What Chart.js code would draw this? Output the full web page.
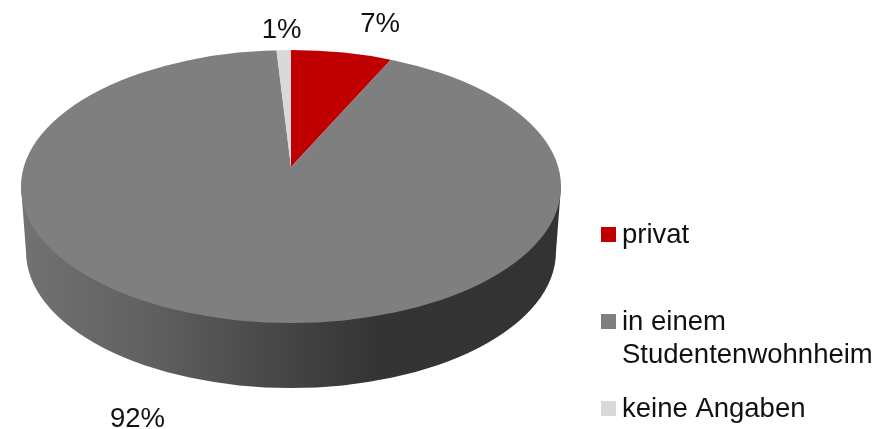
<!DOCTYPE html>
<html>
<head>
<meta charset="utf-8">
<style>
  html, body { margin: 0; padding: 0; background: #fff; }
  canvas { display: block; }
</style>
<script src="https://cdn.jsdelivr.net/npm/chart.js@4"></script>
</head>
<body>
<canvas id="wohnenChart" width="884" height="429"></canvas>
<script>
var categories = ["privat", "in einem Studentenwohnheim", "keine Angaben"];
var legendLines = [["privat"], ["in einem", "Studentenwohnheim"], ["keine Angaben"]];
var values = [7, 92, 1];
var colors = ["#c00000", "#7f7f7f", "#d9d9d9"];

var fontName = "27.5px 'Liberation Sans', Arial, sans-serif";
var valueLabelPos = [[380, 32], [137.5, 427], [281.5, 38]];
var legendPos = [
    { box: 227, lines: [243] },
    { box: 314, lines: [330, 363] },
    { box: 401, lines: [417] }
];

// Chart.js only draws round pies, so the arcs get squashed and clipped into a tilted disc
var tiltedPie = {
    id: "tiltedPie",
    beforeDatasetsDraw: function (chart) {
        var c = chart.ctx;
        var arc = chart.getDatasetMeta(0).data[0];
        var ry = arc.outerRadius;
        var rx = ry * 270 / 136.5;
        var cx = arc.x, cy = arc.y;

        // side wall
        var grad = c.createLinearGradient(cx - rx, 0, cx + rx, 0);
        grad.addColorStop(0, "#727272");
        grad.addColorStop(0.25, "#5f5f5f");
        grad.addColorStop(0.5, "#444444");
        grad.addColorStop(0.66, "#343434");
        grad.addColorStop(1, "#333333");
        c.save();
        c.fillStyle = grad;
        c.beginPath();
        c.moveTo(cx - rx, cy);
        c.lineTo(cx - rx + 5, cy + 65);
        c.ellipse(cx, cy + 65, rx - 5, ry, 0, Math.PI, 0, true);
        c.lineTo(cx + rx, cy);
        c.closePath();
        c.fill();
        c.restore();

        // top face, apex of the slices sits above the middle because of the perspective
        c.save();
        c.beginPath();
        c.ellipse(cx, cy, rx, ry, 0, 0, Math.PI * 2);
        c.clip();
        c.translate(cx, cy - 19.5);
        c.scale(1.3 * rx / ry, 1.3);
        c.translate(-cx, -cy);
    },
    afterDatasetsDraw: function (chart) {
        chart.ctx.restore();
    },
    afterDraw: function (chart) {
        var c = chart.ctx;
        c.save();
        c.font = fontName;
        c.fillStyle = "#111";
        c.textBaseline = "alphabetic";
        c.textAlign = "center";
        values.forEach(function (v, i) {
            c.fillText(v + "%", valueLabelPos[i][0], valueLabelPos[i][1]);
        });
        c.textAlign = "left";
        legendLines.forEach(function (lines, i) {
            c.fillStyle = colors[i];
            c.fillRect(601, legendPos[i].box, 15, 15);
            c.fillStyle = "#111";
            lines.forEach(function (line, j) {
                c.fillText(line, 622, legendPos[i].lines[j]);
            });
        });
        c.restore();
    }
};

var ctx = document.getElementById("wohnenChart");
var wohnenChart = new Chart(ctx, {
    type: "pie",
    plugins: [tiltedPie],
    options: {
        responsive: false,
        animation: false,
        layout: { padding: { left: 21, right: 323, top: 50, bottom: 106 } },
        plugins: {
            legend: { display: false },
            tooltip: { enabled: false }
        }
    },
    data: {
        labels: categories,
        datasets: [{
            data: values,
            backgroundColor: colors,
            borderWidth: 0,
            clip: false
        }]
    }
});
</script>
</body>
</html>
